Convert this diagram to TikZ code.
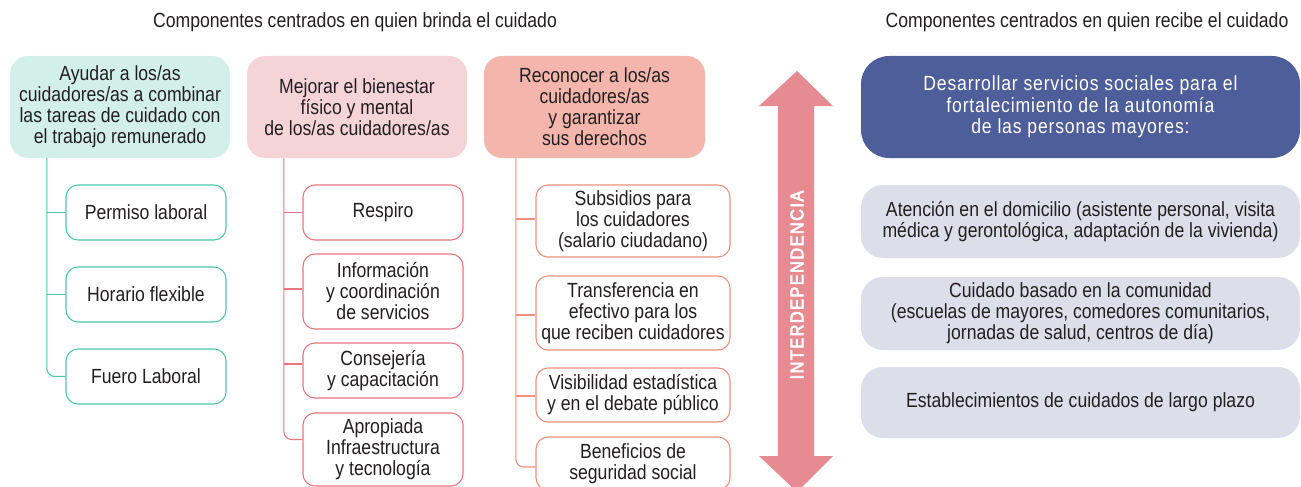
\documentclass[tikz,border=0pt]{standalone}
\usepackage{fontspec}
\setmainfont[FakeStretch=0.86]{Liberation Sans}
\newfontfamily\interfont[FakeStretch=0.88,LetterSpace=8,FakeBold=3.5]{Liberation Sans}
\definecolor{tealfill}{HTML}{D3F0E8}
\definecolor{tealline}{HTML}{4CC8A6}
\definecolor{pinkfill}{HTML}{F5D4D7}
\definecolor{pinkline}{HTML}{E8767E}
\definecolor{salfill}{HTML}{F4B6AC}
\definecolor{salline}{HTML}{EF8F7C}
\definecolor{arrowc}{HTML}{E58B91}
\definecolor{bluefill}{HTML}{4D5E9A}
\definecolor{grayfill}{HTML}{DDDEEA}
\definecolor{txt}{HTML}{231F20}
\tikzset{
  base/.style={inner sep=0pt, align=center, text=txt, font=\fontsize{20.5}{21}\selectfont},
  topbox/.style={base, rounded corners=18pt, minimum height=102pt},
  child/.style={base, draw, line width=1.1pt, fill=white, rounded corners=12pt, minimum height=55pt},
  tealchild/.style={child, draw=tealline, minimum width=160pt},
  pinkchild/.style={child, draw=pinkline, minimum width=160pt},
  salchild/.style={child, draw=salline, minimum width=194pt},
  graybox/.style={base, fill=grayfill, rounded corners=22pt, minimum width=439pt, minimum height=73pt},
  title/.style={base, font=\fontsize{20.5}{21}\selectfont},
  tline/.style={draw=tealline, line width=1.1pt},
  pline/.style={draw=pinkline, line width=1.1pt},
  sline/.style={draw=salline, line width=1.1pt},
}
\begin{document}
\begin{tikzpicture}[x=1pt,y=-1pt]
\useasboundingbox (0,0) rectangle (1301,487);
\clip (0,0) rectangle (1301,487);
% titles
\node[title] (t1) at (355,22) {Componentes centrados en quien brinda el cuidado};
\node[title] (t2) at (1087,22) {Componentes centrados en quien recibe el cuidado};
% top boxes
\node[topbox, fill=tealfill, minimum width=220pt] (A) at (120,107) {Ayudar a los/as\\cuidadores/as a combinar\\las tareas de cuidado con\\el trabajo remunerado};
\node[topbox, fill=pinkfill, minimum width=220pt] (B) at (357,107) {Mejorar el bienestar\\físico y mental\\de los/as cuidadores/as};
\node[topbox, fill=salfill, minimum width=221pt] (C) at (594.5,107) {Reconocer a los/as\\cuidadores/as\\y garantizar\\sus derechos};
% teal children
\node[tealchild] (a1) at (146,212.5) {Permiso laboral};
\node[tealchild] (a2) at (146,294.5) {Horario flexible};
\node[tealchild] (a3) at (146,376.5) {Fuero Laboral};
% pink children
\node[pinkchild] (b1) at (383,212.5) {Respiro};
\node[pinkchild, minimum height=75pt] (b2) at (383,291.5) {Información\\y coordinación\\de servicios};
\node[pinkchild] (b3) at (383,370.5) {Consejería\\y capacitación};
\node[pinkchild, minimum height=73pt] (b4) at (383,449.5) {Apropiada\\Infraestructura\\y tecnología};
% salmon children
\node[salchild, minimum height=72pt] (c1) at (633,221) {Subsidios para\\los cuidadores\\(salario ciudadano)};
\node[salchild, minimum height=74pt] (c2) at (633,313) {Transferencia en\\efectivo para los\\que reciben cuidadores};
\node[salchild, minimum height=54pt] (c3) at (633,395) {Visibilidad estadística\\y en el debate público};
\node[salchild, minimum height=53pt] (c4) at (633,463.5) {Beneficios de\\seguridad social};
% connectors teal
\coordinate (ta) at ([xshift=37pt]A.south west);
\draw[tline, rounded corners=8pt] (ta) |- (a3.west);
\draw[tline] (ta |- a1.west) -- (a1.west);
\draw[tline] (ta |- a2.west) -- (a2.west);
% connectors pink
\coordinate (pb) at ([xshift=37pt]B.south west);
\draw[pline, rounded corners=8pt] (pb) |- ([yshift=10pt]b4.west);
\draw[pline] (pb |- b1.west) -- (b1.west);
\draw[pline] ([yshift=2.5pt]pb |- b2.west) -- ([yshift=2.5pt]b2.west);
\draw[pline] ([yshift=6.5pt]pb |- b3.west) -- ([yshift=6.5pt]b3.west);
% connectors salmon
\coordinate (sc) at ([xshift=32pt]C.south west);
\draw[sline, rounded corners=8pt] (sc) |- ([yshift=-3.5pt]c4.west);
\draw[sline] ([yshift=2pt]sc |- c1.west) -- ([yshift=2pt]c1.west);
\draw[sline] ([yshift=-2pt]sc |- c2.west) -- ([yshift=-2pt]c2.west);
\draw[sline] ([yshift=-1pt]sc |- c3.west) -- ([yshift=-1pt]c3.west);
% arrow
\fill[arrowc] (797,71) -- (833,106) -- (814,106) -- (814,456) -- (833,456) -- (797,492) -- (759,456) -- (778,456) -- (778,106) -- (759,106) -- cycle;
\node[rotate=90, text=white, font=\fontsize{18.5}{19}\interfont, inner sep=0pt] (inter) at (797,285) {INTERDEPENDENCIA};
% right side
\node[base, fill=bluefill, text=white, rounded corners=28pt, minimum width=439pt, minimum height=102pt, font=\fontsize{20.5}{21.5}\addfontfeature{LetterSpace=4}\selectfont] (D) at (1080.5,107) {Desarrollar servicios sociales para el\\fortalecimiento de la autonomía\\de las personas mayores:};
\node[graybox] (g1) at (1080.5,221.5) {Atención en el domicilio (asistente personal, visita\\médica y gerontológica, adaptación de la vivienda)};
\node[graybox] (g2) at (1080.5,313.5) {Cuidado basado en la comunidad\\(escuelas de mayores, comedores comunitarios,\\jornadas de salud, centros de día)};
\node[graybox, minimum height=71pt] (g3) at (1080.5,402.5) {Establecimientos de cuidados de largo plazo};
\end{tikzpicture}
\end{document}
